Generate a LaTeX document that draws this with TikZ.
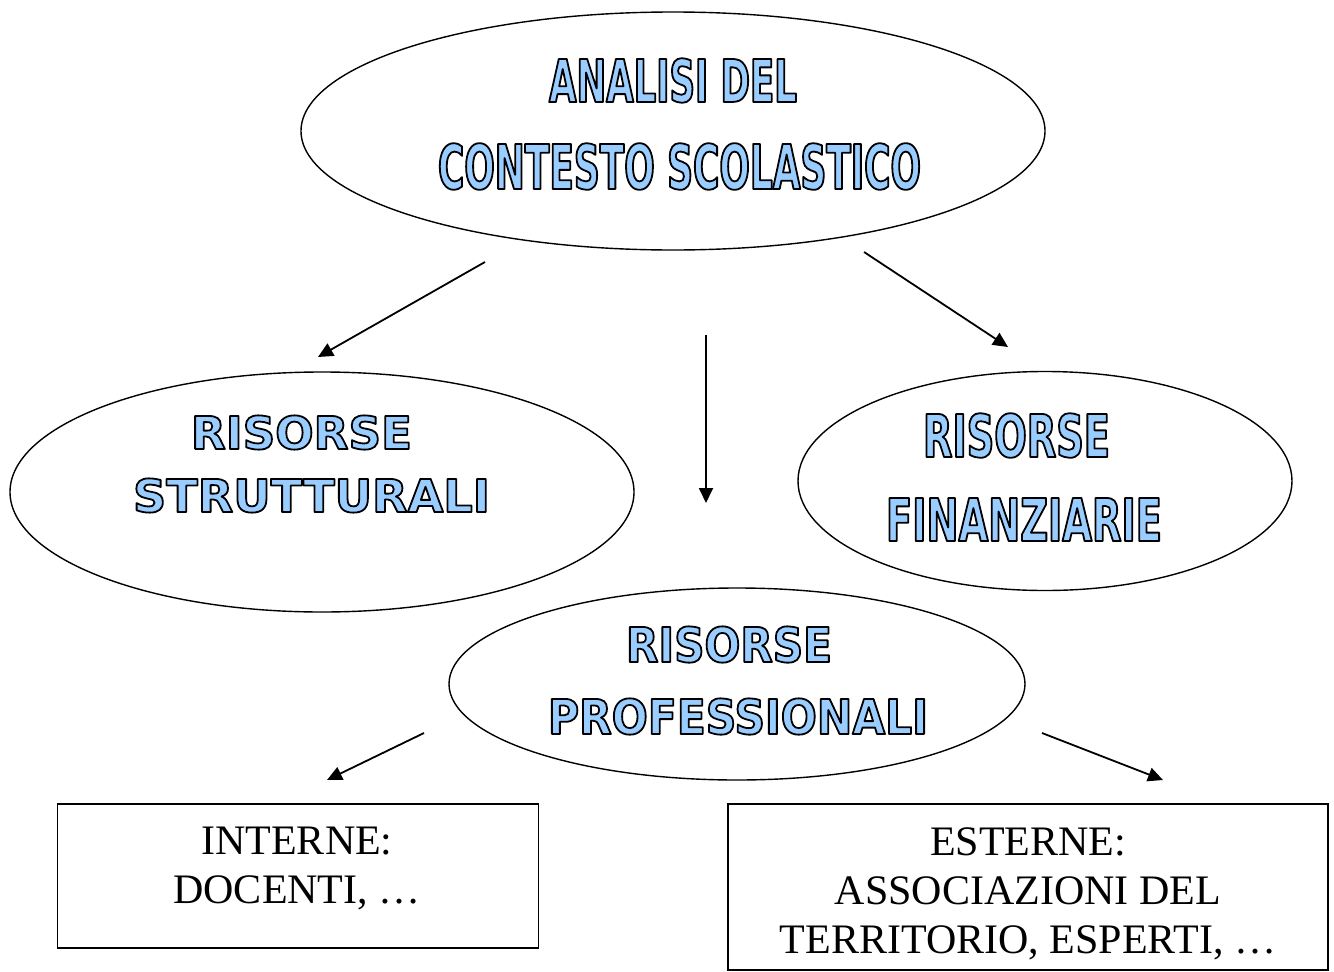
\documentclass[tikz,border=0pt]{standalone}
\usepackage{fontspec}
\usetikzlibrary{shapes.geometric,arrows.meta}
\setmainfont{Liberation Serif}
% light blue letters with a black outline (fill + stroke text rendering)
\newcommand\artline[4]{% #1 font, #2 width, #3 cap height, #4 text
  \begingroup
  \pgfmathsetmacro\artsize{#3/0.729}%
  \fontspec{#1}\fontsize{\artsize pt}{\artsize pt}\selectfont
  \setbox0\hbox{#4}%
  \pgfmathsetmacro\artstretch{#2/\the\wd0}%
  \edef\artnext{\noexpand\fontspec{#1}[FakeStretch=\artstretch]}\artnext
  \fontsize{\artsize pt}{\artsize pt}\selectfont
  \special{pdf:code 2 Tr 1.8 w 1 j}%
  \special{pdf:bcolor [0.6 0.8 1] [0 0 0]}#4\special{pdf:ecolor}%
  \special{pdf:code 0 Tr 1 w 0 j}%
  \endgroup}
\newcommand\artnarrow[3]{\artline{DejaVu Sans Condensed Bold}{#1}{#2}{#3}}
\newcommand\artwide[3]{\artline{DejaVu Sans Bold}{#1}{#2}{#3}}
\begin{document}
\begin{tikzpicture}[x=1pt,y=-1pt,
  oval/.style={draw,ellipse,line width=1.4pt,inner sep=0pt},
  box/.style={draw,rectangle,line width=1.8pt,inner sep=0pt},
  art/.style={inner sep=0pt},
  boxtext/.style={inner sep=0pt,align=center,anchor=north,font=\fontsize{42}{49}\selectfont},
  link/.style={line width=1.8pt,-{Triangle[length=15pt,width=14pt]}}]
\useasboundingbox (0,0) rectangle (1334,972);
\fill[white] (0,0) rectangle (1334,972);

% ellipses
\node[oval,minimum width=744pt,minimum height=238pt] (top) at (673,131) {};
\node[oval,minimum width=624pt,minimum height=240pt] (left) at (322,492) {};
\node[oval,minimum width=494pt,minimum height=219pt] (right) at (1045,481) {};
\node[oval,minimum width=576pt,minimum height=192pt] (mid) at (737,684) {};

% boxes
\node[box,minimum width=481pt,minimum height=144pt] (inbox) at (298,876) {};
\node[box,minimum width=600pt,minimum height=166pt] (exbox) at (1028,887) {};

% headline texts
\node[art] (t1) at (673,80.5) {\artnarrow{248}{43}{ANALISI DEL}};
\node[art] (t2) at (679.5,166.5) {\artnarrow{483}{45}{CONTESTO SCOLASTICO}};
\node[art] (l1) at (301.5,432.5) {\artwide{221}{33}{RISORSE}};
\node[art] (l2) at (311.5,495.5) {\artwide{357}{33}{STRUTTURALI}};
\node[art] (r1) at (1016.5,435.5) {\artnarrow{187}{43}{RISORSE}};
\node[art] (r2) at (1024,519.5) {\artnarrow{276}{43}{FINANZIARIE}};
\node[art] (m1) at (729,644.5) {\artwide{206}{35}{RISORSE}};
\node[art] (m2) at (738,716.5) {\artwide{380}{35}{PROFESSIONALI}};

% box texts
\node[boxtext] (intext) at (297,827) {INTERNE:\\DOCENTI, …};
\node[boxtext] (extext) at (1028,827) {ESTERNE:\\ ASSOCIAZIONI DEL\\TERRITORIO, ESPERTI, …};

% arrow end points
\coordinate (a1s) at (485,262);  \coordinate (a1e) at (318,357);
\coordinate (a2s) at (706,335);  \coordinate (a2e) at (706,503);
\coordinate (a3s) at (864,252);  \coordinate (a3e) at (1008,347);
\coordinate (a4s) at (424,733);  \coordinate (a4e) at (327,780);
\coordinate (a5s) at (1042,733); \coordinate (a5e) at (1163,780);

\draw[link] (a1s) -- (a1e);
\draw[link] (a2s) -- (a2e);
\draw[link] (a3s) -- (a3e);
\draw[link] (a4s) -- (a4e);
\draw[link] (a5s) -- (a5e);
\end{tikzpicture}
\end{document}
